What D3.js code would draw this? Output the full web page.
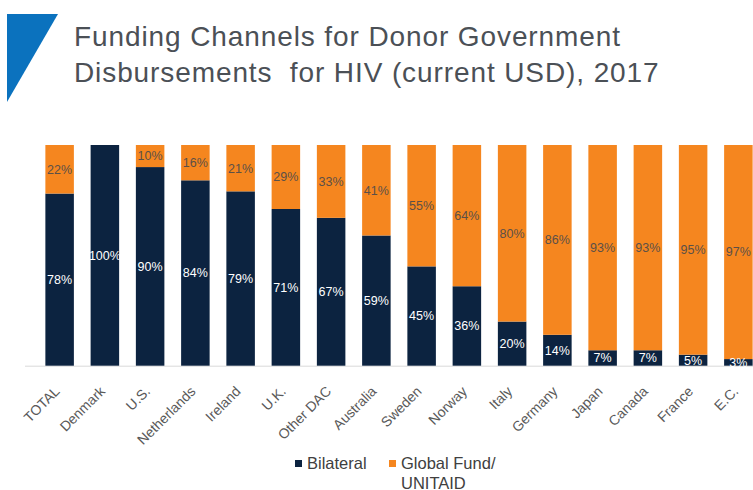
<!DOCTYPE html>
<html>
<head>
<meta charset="utf-8">
<script src="https://cdn.jsdelivr.net/npm/d3@7"></script>
<style>
  html, body { margin: 0; padding: 0; background: #ffffff; }
  svg { display: block; font-family: "Liberation Sans", Arial, sans-serif; }
</style>
</head>
<body>
<svg id="chart" width="753" height="490"></svg>
<script>
// Donor channels for HIV disbursements, 2017 (share of total, %)
const categories = ["TOTAL", "Denmark", "U.S.", "Netherlands", "Ireland", "U.K.", "Other DAC",
  "Australia", "Sweden", "Norway", "Italy", "Germany", "Japan", "Canada", "France", "E.C."];
const bilateral = [78, 100, 90, 84, 79, 71, 67, 59, 45, 36, 20, 14, 7, 7, 5, 3];
const globalFund = [22, 0, 10, 16, 21, 29, 33, 41, 55, 64, 80, 86, 93, 93, 95, 97];
const seriesNames = ["Bilateral", "Global Fund/\nUNITAID"];

const W = 753, H = 490;
const NAVY = "#0c2340", ORANGE = "#f5861f";
const svg = d3.select("#chart");

// Corner accent
svg.append("polygon")
  .attr("points", "7,14 58,14 7,102")
  .attr("fill", "#0b72be");

// Title
const title = svg.append("text")
  .attr("fill", "#4b5056")
  .attr("font-size", 28)
  .attr("letter-spacing", 0.9)
  .style("white-space", "pre");
title.append("tspan").attr("x", 74).attr("y", 46).text("Funding Channels for Donor Government");
title.append("tspan").attr("x", 74).attr("y", 82).text("Disbursements  for HIV (current USD), 2017");

// Scales
const step = 45.25;
const x = d3.scaleBand()
  .domain(categories)
  .range([37, 37 + step * categories.length])
  .paddingInner(0.37)
  .paddingOuter(0.185);
const y = d3.scaleLinear().domain([0, 100]).range([365.7, 145]);

const rows = categories.map((c, i) => ({ c, b: bilateral[i], g: globalFund[i] }));

// Baseline
svg.append("line")
  .attr("x1", 25).attr("x2", W)
  .attr("y1", y(0) + 0.5).attr("y2", y(0) + 0.5)
  .attr("stroke", "#d9d9d9").attr("stroke-width", 1);

// Bilateral segments
svg.append("g").selectAll("rect").data(rows).join("rect")
  .attr("x", d => x(d.c))
  .attr("width", x.bandwidth())
  .attr("y", d => y(d.b))
  .attr("height", d => y(0) - y(d.b))
  .attr("fill", NAVY);

// Global Fund / UNITAID segments stacked on top
svg.append("g").selectAll("rect").data(rows.filter(d => d.g > 0)).join("rect")
  .attr("x", d => x(d.c))
  .attr("width", x.bandwidth())
  .attr("y", d => y(d.b + d.g))
  .attr("height", d => y(d.b) - y(d.b + d.g))
  .attr("fill", ORANGE);

// Value labels
const labels = svg.append("g").attr("font-size", 12.5).attr("text-anchor", "middle");
labels.selectAll("text.b").data(rows).join("text")
  .attr("class", "b")
  .attr("x", d => x(d.c) + x.bandwidth() / 2)
  .attr("y", d => (y(0) + y(d.b)) / 2)
  .attr("dy", "0.35em")
  .attr("fill", "#ffffff")
  .text(d => d.b + "%");
labels.selectAll("text.g").data(rows.filter(d => d.g > 0)).join("text")
  .attr("class", "g")
  .attr("x", d => x(d.c) + x.bandwidth() / 2)
  .attr("y", d => (y(d.b) + y(d.b + d.g)) / 2)
  .attr("dy", "0.35em")
  .attr("fill", "#5b5048")
  .text(d => d.g + "%");

// Category axis labels, rotated
const xAxis = svg.append("g")
  .attr("transform", `translate(0,${y(0)})`)
  .call(d3.axisBottom(x).tickSize(0).tickPadding(0));
xAxis.select(".domain").remove();
xAxis.attr("font-family", null).attr("font-size", null);
xAxis.selectAll("text")
  .style("font-size", "14px")
  .attr("fill", "#595959")
  .attr("text-anchor", "end")
  .attr("dy", null)
  .attr("y", 0)
  .attr("transform", "translate(1,26.5) rotate(-45)");

// Legend
const legend = svg.append("g").attr("font-size", 16.5).attr("fill", "#404040");
const legendItems = [
  { name: seriesNames[0], color: NAVY, x: 295 },
  { name: seriesNames[1], color: ORANGE, x: 389 }
];
legendItems.forEach(it => {
  legend.append("rect")
    .attr("x", it.x).attr("y", 460)
    .attr("width", 7).attr("height", 7)
    .attr("fill", it.color);
  const t = legend.append("text").attr("x", it.x + 12).attr("y", 468.5);
  it.name.split("\n").forEach((line, i) => {
    t.append("tspan").attr("x", it.x + 12).attr("dy", i === 0 ? 0 : 20).text(line);
  });
});
</script>
</body>
</html>
